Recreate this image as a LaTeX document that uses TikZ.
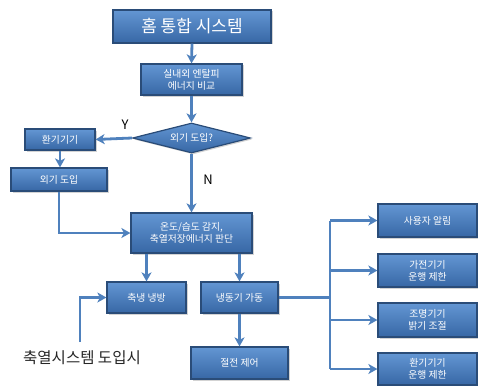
\documentclass[tikz,border=0pt]{standalone}
\usepackage{fontspec}
\setmainfont{Noto Sans CJK KR}
\usetikzlibrary{shapes.geometric,arrows.meta,shadows}
\definecolor{boxtop}{HTML}{6396D3}
\definecolor{boxbot}{HTML}{3767A5}
\definecolor{boxline}{HTML}{2A4C78}
\definecolor{conn}{HTML}{4F81BD}
\tikzset{
  box/.style={draw=boxline, line width=1.2pt, top color=boxtop, bottom color=boxbot,
    text=white, font=\fontsize{9.8}{12}\selectfont, align=center, inner sep=0pt,
    drop shadow={opacity=0.35, shadow xshift=1.5pt, shadow yshift=-1.5pt}},
  conn/.style={draw=conn, line width=2.8pt},
  arr/.style={conn, -{Stealth[length=9pt,width=10pt,inset=2.5pt]}},
  lab/.style={font=\fontsize{13}{15}\selectfont, text=black}
}
\begin{document}
\begin{tikzpicture}[x=1pt,y=-1pt]
\useasboundingbox (0,0) rectangle (478,385);
\node[box, minimum width=158pt, minimum height=33pt, font=\fontsize{17}{19}\selectfont] (title) at (192,26.5) {홈 통합 시스템};
\node[box, minimum width=101pt, minimum height=31pt] (cmp) at (191.5,79.5) {실내외 엔탈피\\에너지 비교};
\node[box, diamond, minimum width=118pt, minimum height=30pt, shape aspect=3.9] (dec) at (191.5,138) {외기 도입?};
\node[box, minimum width=70pt, minimum height=21pt] (hwan) at (60,139.5) {환기기기};
\node[box, minimum width=96pt, minimum height=23pt] (oegi) at (59,179.5) {외기 도입};
\node[box, minimum width=121pt, minimum height=40pt] (temp) at (191.5,233) {온도/습도 감지,\\축열저장에너지 판단};
\node[box, minimum width=79pt, minimum height=31pt] (chuk) at (146.5,297.5) {축냉 냉방};
\node[box, minimum width=77pt, minimum height=31pt] (naeng) at (239.5,297.5) {냉동기 가동};
\node[box, minimum width=97pt, minimum height=32pt] (jeol) at (239.5,363) {절전 제어};
\node[box, minimum width=99pt, minimum height=33pt] (r1) at (427.5,220.5) {사용자 알림};
\node[box, minimum width=99pt, minimum height=33pt] (r2) at (427.5,270.5) {가전기기\\운행 제한};
\node[box, minimum width=99pt, minimum height=34pt] (r3) at (427.5,320) {조명기기\\밝기 조절};
\node[box, minimum width=99pt, minimum height=32pt] (r4) at (427.5,369) {환기기기\\운행 제한};
\node[font=\fontsize{15.5}{17}\selectfont, text=black!85] (note) at (82,358) {축열시스템 도입시};
\node[lab] (ylab) at (125,125) {Y};
\node[lab] (nlab) at (208,180) {N};
\coordinate (start) at (80,342);
\coordinate (bus) at (330,0);
\draw[arr] (title.south) -- (cmp.north);
\draw[arr] (cmp.south) -- (dec.north);
\draw[arr] (dec.west) -- (hwan.east);
\draw[arr] (hwan.south) -- (hwan.south |- oegi.north);
\draw[arr] (oegi.south) |- (temp.west);
\draw[arr] (dec.south) -- (temp.north);
\draw[arr] (chuk.north |- temp.south) -- (chuk.north);
\draw[arr] (naeng.north |- temp.south) -- (naeng.north);
\draw[arr] (naeng.south) -- (jeol.north);
\draw[arr] (start) |- (chuk.west);
\draw[conn] (naeng.east) -- (naeng.east -| bus);
\draw[conn] (bus |- r1.west) -- (bus |- r4.west);
\draw[arr] (bus |- r1.west) -- (r1.west);
\draw[arr] (bus |- r2.west) -- (r2.west);
\draw[arr] (bus |- r3.west) -- (r3.west);
\draw[arr] (bus |- r4.west) -- (r4.west);
\end{tikzpicture}
\end{document}
